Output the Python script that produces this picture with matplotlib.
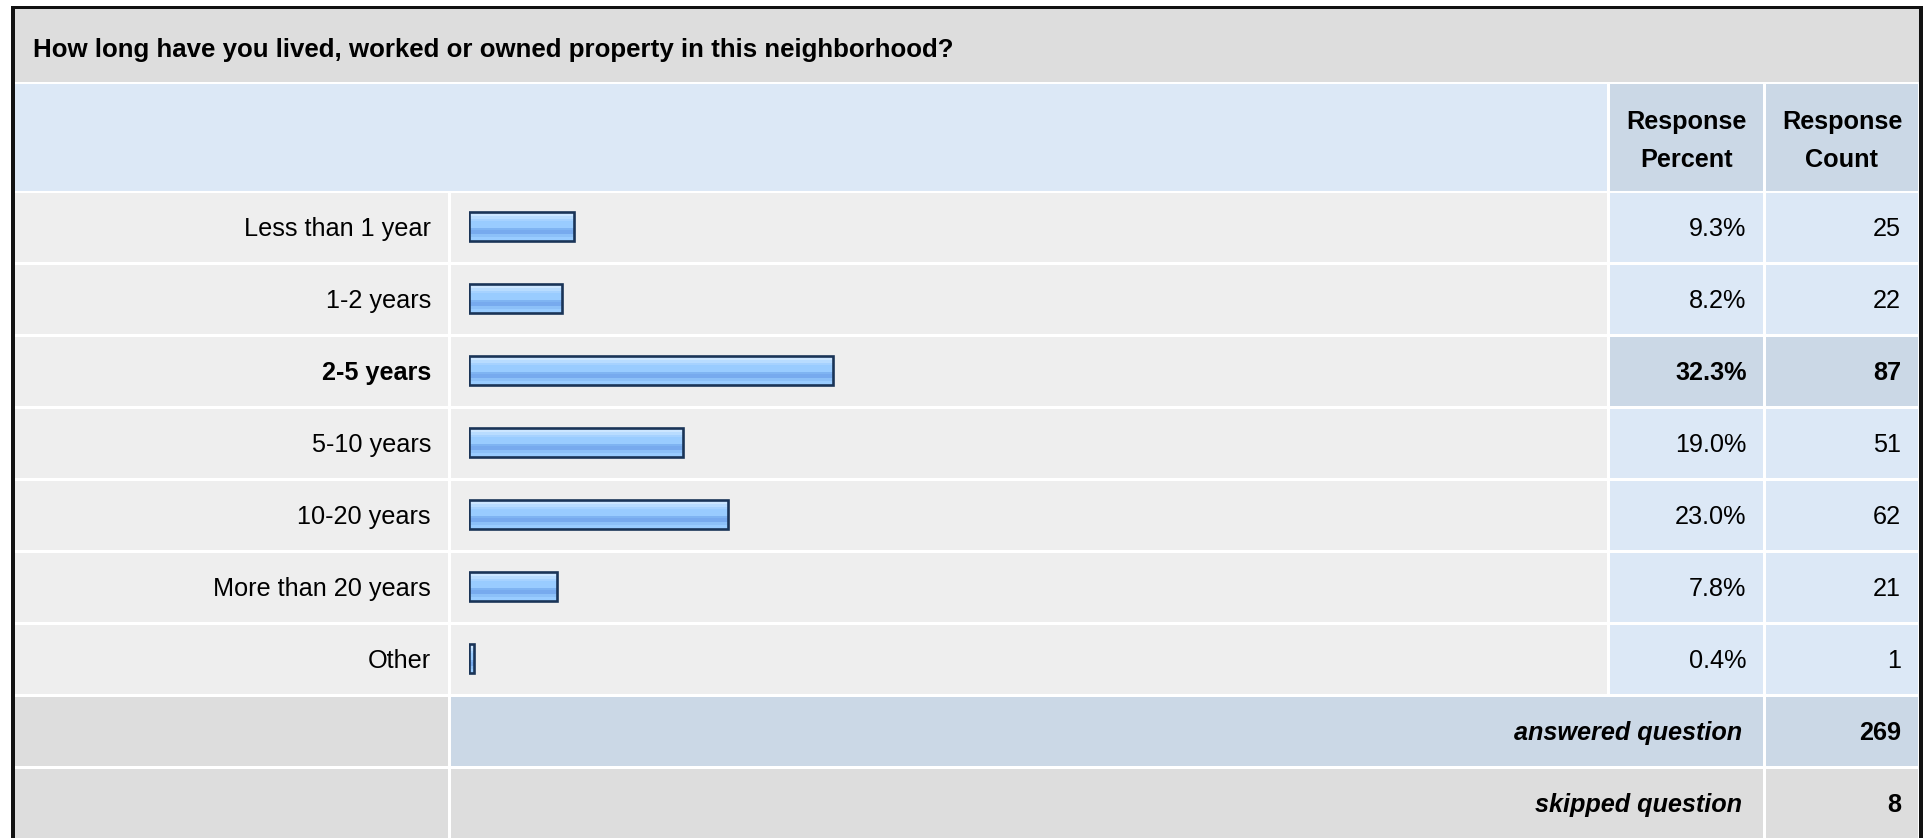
import matplotlib
matplotlib.use('Agg')
from matplotlib import pyplot as plt
from matplotlib.patches import Rectangle
import numpy

plt.rcParams['font.family'] = ['Liberation Sans', 'DejaVu Sans']

question = 'How long have you lived, worked or owned property in this neighborhood?'
answers = ['Less than 1 year', '1-2 years', '2-5 years', '5-10 years',
           '10-20 years', 'More than 20 years', 'Other']
percents = [9.3, 8.2, 32.3, 19.0, 23.0, 7.8, 0.4]
counts = [25, 22, 87, 51, 62, 21, 1]
answered = 269
skipped = 8

W, H = 1931, 838
grey = '#dddddd'
row_grey = '#eeeeee'
light_blue = '#dce8f6'
mid_blue = '#cbd8e6'

# column edges and row grid (pixels)
L0, L1 = 15, 448.5
B0, B1 = 451.5, 1607.5
P0, P1 = 1610, 1762.7
C0, C1 = 1766, 1918
row_top = 192.7
pitch = 72
row_h = 69.7
fs = 18.2

fig = plt.figure(figsize=(W / 100, H / 100), dpi=100)
ax = fig.add_axes([0, 0, 1, 1])
ax.set_xlim(0, W)
ax.set_ylim(H, 0)
ax.axis('off')


def cell(x0, x1, y0, y1, color):
    ax.add_patch(Rectangle((x0, y0), x1 - x0, y1 - y0, facecolor=color, edgecolor='none'))


# outer frame
ax.add_patch(Rectangle((11.5, 6), 1922.7 - 11.5, H, facecolor='#111111', edgecolor='none'))
ax.add_patch(Rectangle((15, 9.5), 1919 - 15, H, facecolor='white', edgecolor='none'))

# title
cell(15, 1919, 9.5, 82, grey)
ax.text(33, 56.5, question, fontsize=18.6, fontweight='bold', color='black')

# header
cell(L0, B1, 84, 190.7, light_blue)
cell(P0, P1, 84, 190.7, mid_blue)
cell(C0, C1, 84, 190.7, mid_blue)
for xc, word in [((P0 + P1) / 2, 'Percent'), ((C0 + C1) / 2, 'Count')]:
    ax.text(xc, 129.5, 'Response', fontsize=fs, fontweight='bold', ha='center')
    ax.text(xc, 167, word, fontsize=fs, fontweight='bold', ha='center')

top_count = max(counts)
for i, (name, pct, n) in enumerate(zip(answers, percents, counts)):
    y0 = row_top + pitch * i
    y1 = y0 + row_h
    yb = (y0 + y1) / 2 + 8.8
    hot = n == top_count
    cell(L0, L1, y0, y1, row_grey)
    cell(B0, B1, y0, y1, row_grey)
    cell(P0, P1, y0, y1, mid_blue if hot else light_blue)
    cell(C0, C1, y0, y1, mid_blue if hot else light_blue)
    wt = 'bold' if hot else 'normal'
    ax.text(431, yb, name, fontsize=fs, fontweight=wt, ha='right')
    ax.text(1746.5, yb, f'{pct:.1f}%', fontsize=fs, fontweight=wt, ha='right')
    ax.text(1901, yb, str(n), fontsize=fs, fontweight=wt, ha='right')

# answered / skipped rows
for k, (label, value, color) in enumerate([('answered question', answered, mid_blue),
                                           ('skipped question', skipped, grey)]):
    y0 = row_top + pitch * (len(answers) + k)
    y1 = y0 + row_h
    yb = (y0 + y1) / 2 + 8.8
    cell(L0, L1, y0, y1, grey)
    cell(B0, P1, y0, y1, color)
    cell(C0, C1, y0, y1, color)
    ax.text(1742, yb, label, fontsize=fs, fontweight='bold', style='italic', ha='right')
    ax.text(1901, yb, str(value), fontsize=fs, fontweight='bold', ha='right')

# bars
bx = fig.add_axes([469.5 / W, 1 - 695.5 / H, 1124 / W, 504 / H])
bx.axis('off')
rows = numpy.arange(len(answers)) + 0.485
bars = bx.barh(rows, percents, height=0.4, color='none', edgecolor='#1a3457',
               linewidth=1.9, zorder=3)
stripes = ['#cce6ff', '#cce6ff', '#b8dcff', '#a6d2ff', '#99ccff', '#99ccff', '#99ccff',
           '#7fb4f2', '#77aaee', '#77aaee', '#8cc0f8', '#99ccff', '#99ccff']
grad = numpy.array([[matplotlib.colors.to_rgb(c)] for c in stripes])
for b in bars:
    x, y, w, h = b.get_x(), b.get_y(), b.get_width(), b.get_height()
    im = bx.imshow(grad, extent=[x, x + w, y + h, y], aspect='auto',
                   interpolation='nearest', zorder=2)
    im.set_clip_path(b)
bx.set_xlim(0, 100)
bx.set_ylim(len(answers), 0)

fig.savefig('out.png', dpi=100)
